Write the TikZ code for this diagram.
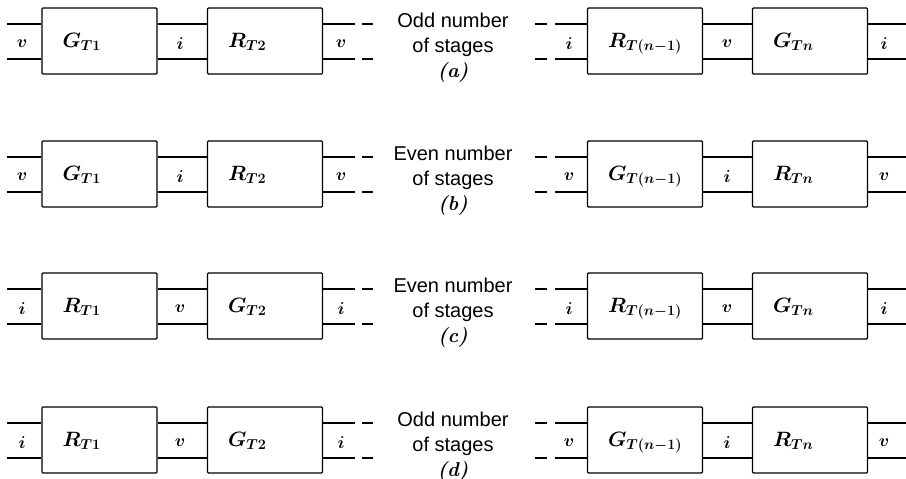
\documentclass[tikz,border=0pt]{standalone}
\usepackage{fontspec}
\setsansfont{Liberation Sans}
\tikzset{
  stagebox/.style={draw, line width=1.3pt, rounded corners=1pt, minimum width=115pt, minimum height=66pt, inner sep=0pt},
  wire/.style={line width=2pt},
  boxlab/.style={anchor=base west, inner sep=0pt, font=\fontsize{20}{24}\selectfont\boldmath},
  wirelab/.style={inner sep=0pt, font=\fontsize{19}{20}\selectfont\boldmath},
  captext/.style={font=\sffamily\fontsize{20}{25}\selectfont, align=center, inner sep=0pt}
}
\begin{document}
\begin{tikzpicture}[x=1pt,y=-1pt]
\useasboundingbox (0,0) rectangle (906,479);
\foreach \rw/\yc/\bla/\blb/\blc/\bld/\wla/\wlb/\wlc/\wld/\wle/\wlf/\cw/\ltr in {
  a/41/G_{T1}/R_{T2}/R_{T(n-1)}/G_{Tn}/v/i/v/i/v/i/Odd/a,
  b/174/G_{T1}/R_{T2}/G_{T(n-1)}/R_{Tn}/v/i/v/v/i/v/Even/b,
  c/306/R_{T1}/G_{T2}/R_{T(n-1)}/G_{Tn}/i/v/i/i/v/i/Even/c,
  d/440/R_{T1}/G_{T2}/G_{T(n-1)}/R_{Tn}/i/v/i/v/i/v/Odd/d}{
  % stage boxes
  \node[stagebox] (\rw1) at (99.5,\yc) {};
  \node[stagebox] (\rw2) at (265,\yc) {};
  \node[stagebox] (\rw3) at (645,\yc) {};
  \node[stagebox] (\rw4) at (810,\yc) {};
  % box labels
  \node[boxlab] (\rw1l) at ([xshift=21pt,yshift=-6pt]\rw1.west) {$\bla$};
  \node[boxlab] (\rw2l) at ([xshift=21pt,yshift=-6pt]\rw2.west) {$\blb$};
  \node[boxlab] (\rw3l) at ([xshift=21pt,yshift=-6pt]\rw3.west) {$\blc$};
  \node[boxlab] (\rw4l) at ([xshift=21pt,yshift=-6pt]\rw4.west) {$\bld$};
  % free wire ends
  \coordinate (\rw-L) at (7,\yc);
  \coordinate (\rw-M1) at (355,\yc);
  \coordinate (\rw-M2) at (555,\yc);
  \coordinate (\rw-R) at (906,\yc);
  \foreach \s in {17.5,-17.5}{
    \draw[wire] ([yshift=\s pt]\rw-L) -- ([yshift=\s pt]\rw1.west);
    \draw[wire] ([yshift=\s pt]\rw1.east) -- ([yshift=\s pt]\rw2.west);
    \draw[wire] ([yshift=\s pt]\rw2.east) -- ([yshift=\s pt]\rw-M1);
    \draw[wire] ([yshift=\s pt]\rw-M2) -- ([yshift=\s pt]\rw3.west);
    \draw[wire] ([yshift=\s pt]\rw3.east) -- ([yshift=\s pt]\rw4.west);
    \draw[wire] ([yshift=\s pt]\rw4.east) -- ([yshift=\s pt]\rw-R);
    \draw[wire] ([xshift=7pt,yshift=\s pt]\rw-M1) -- ++(11,0);
    \draw[wire] ([xshift=-20pt,yshift=\s pt]\rw-M2) -- ++(12,0);
  }
  % wire labels
  \node[wirelab] (\rw-w1) at (22,\yc+3) {$\wla$};
  \node[wirelab] (\rw-w2) at (180,\yc+3) {$\wlb$};
  \node[wirelab] (\rw-w3) at (341,\yc+3) {$\wlc$};
  \node[wirelab] (\rw-w4) at (569,\yc+3) {$\wld$};
  \node[wirelab] (\rw-w5) at (727,\yc+3) {$\wle$};
  \node[wirelab] (\rw-w6) at (884,\yc+3) {$\wlf$};
  % caption
  \node[captext] (\rw-cap) at (453,\yc+7) {\cw\ number\\of stages\\{\rmfamily\bfseries\itshape (\ltr)}};
}
\end{tikzpicture}
\end{document}
